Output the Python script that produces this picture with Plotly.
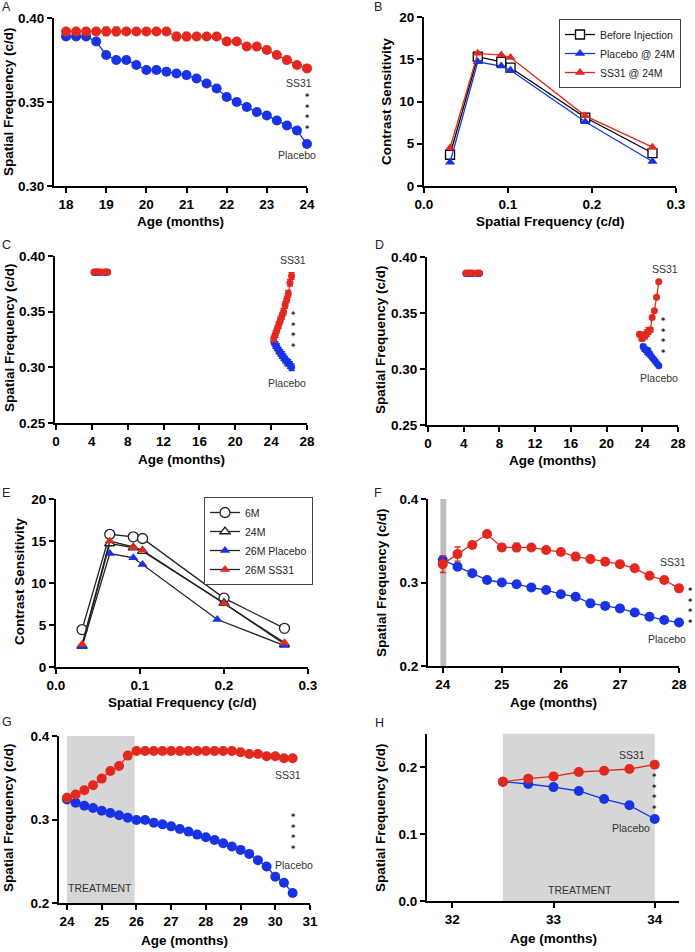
import plotly.graph_objects as go

W, H = 695, 952
RED = '#E3281D'
BLUE = '#1733E4'
DARK = '#222222'
FONT = 'Liberation Sans, Arial, Helvetica, sans-serif'

# ---------------- data ----------------
# Panel A
a_age = [18, 18.25, 18.5, 18.75, 19, 19.25, 19.5, 19.75, 20, 20.25, 20.5, 20.75, 21,
         21.25, 21.5, 21.75, 22, 22.25, 22.5, 22.75, 23, 23.25, 23.5, 23.75, 24]
a_ss31 = [0.392, 0.392, 0.392, 0.392, 0.392, 0.392, 0.392, 0.392, 0.392, 0.392, 0.392, 0.389, 0.389,
          0.389, 0.389, 0.389, 0.386, 0.386, 0.383, 0.383, 0.381, 0.378, 0.375, 0.372, 0.370]
a_ss31_err = [0.0008, 0.0008, 0.0008, 0.0008, 0.0025, 0.0025, 0.0008, 0.0008, 0.0008, 0.0008, 0.0008, 0.0025, 0.0025,
              0.0008, 0.0008, 0.0008, 0.0008, 0.0008, 0.0008, 0.0008, 0.0008, 0.0008, 0.0022, 0.0008, 0.0008]
a_plac = [0.389, 0.389, 0.389, 0.386, 0.378, 0.375, 0.375, 0.372, 0.369, 0.369, 0.368, 0.367, 0.366,
          0.364, 0.361, 0.358, 0.353, 0.350, 0.347, 0.344, 0.342, 0.339, 0.336, 0.333, 0.325]
a_plac_err = [0.0008, 0.0008, 0.0008, 0.0008, 0.0008, 0.0008, 0.0008, 0.0008, 0.0008, 0.0008, 0.0008, 0.0008, 0.0008,
              0.0008, 0.0008, 0.0008, 0.002, 0.0008, 0.0008, 0.0008, 0.0008, 0.0008, 0.0008, 0.002, 0.0008]

# Panel B
b_freq = [0.031, 0.064, 0.092, 0.103, 0.192, 0.272]
b_before = [3.7, 15.3, 14.7, 14.0, 8.1, 3.9]
b_plac = [2.8, 14.7, 14.2, 13.7, 7.6, 2.9]
b_ss31 = [4.5, 15.7, 15.5, 15.2, 8.3, 4.6]

# Panel C
c_young_age = [4.25, 4.5, 4.75, 5.0, 5.5, 5.75]
c_young_plac = [0.3852, 0.3852, 0.3853, 0.3852, 0.3852, 0.3853]
c_young_ss31 = [0.3857, 0.3858, 0.3857, 0.3857, 0.3858, 0.3857]
c_old_age = [24.3, 24.48, 24.66, 24.84, 25.02, 25.2, 25.38, 25.56, 25.74, 25.92, 26.1, 26.28]
c_old_ss31 = [0.326, 0.330, 0.334, 0.338, 0.342, 0.346, 0.350, 0.356, 0.361, 0.366, 0.376, 0.382]
c_old_plac = [0.323, 0.320, 0.318, 0.315, 0.313, 0.311, 0.309, 0.307, 0.305, 0.304, 0.302, 0.300]
c_err = 0.003

# Panel D
d_young_age = [4.25, 4.5, 4.75, 5.0, 5.5, 5.75]
d_young_plac = [0.3852, 0.3852, 0.3853, 0.3852, 0.3852, 0.3853]
d_young_ss31 = [0.3857, 0.3858, 0.3857, 0.3857, 0.3858, 0.3857]
d_ss31_age = [23.7, 23.95, 24.1, 24.3, 24.5, 24.7, 24.9, 25.1, 25.35, 25.6, 25.85]
d_ss31 = [0.331, 0.327, 0.329, 0.330, 0.332, 0.334, 0.335, 0.346, 0.352, 0.364, 0.378]
d_ss31_err = [0.002, 0.002, 0.003, 0.003, 0.003, 0.003, 0.002, 0.001, 0.001, 0.001, 0.001]
d_plac_age = [24.1, 24.25, 24.4, 24.55, 24.7, 24.85, 25.05, 25.25, 25.45, 25.65, 25.85]
d_plac = [0.320, 0.318, 0.317, 0.316, 0.315, 0.313, 0.311, 0.309, 0.307, 0.305, 0.303]
d_plac_err = [0.002, 0.002, 0.002, 0.003, 0.003, 0.002, 0.001, 0.001, 0.001, 0.001, 0.001]

# Panel E
e_freq = [0.031, 0.064, 0.092, 0.103, 0.200, 0.272]
e_freq_plac = [0.031, 0.064, 0.092, 0.103, 0.192, 0.272]
e_6m = [4.45, 15.8, 15.5, 15.3, 8.2, 4.6]
e_24m = [2.5, 14.7, 14.2, 13.8, 7.6, 2.7]
e_26m_plac = [2.4, 13.5, 13.0, 12.2, 5.65, 2.55]
e_26m_ss31 = [2.7, 15.0, 14.3, 13.9, 7.55, 2.9]

# Panel F
f_age = [24, 24.25, 24.5, 24.75, 25, 25.25, 25.5, 25.75, 26, 26.25, 26.5, 26.75, 27, 27.25, 27.5, 27.75, 28]
f_ss31 = [0.322, 0.334, 0.345, 0.358, 0.342, 0.342, 0.342, 0.339, 0.3365, 0.331, 0.328, 0.325, 0.322, 0.317, 0.308, 0.303, 0.293]
f_ss31_err = [0.010, 0.0085, 0.004, 0.001, 0.004, 0.005, 0.001, 0.001, 0.001, 0.001, 0.001, 0.001, 0.001, 0.001, 0.001, 0.001, 0.001]
f_plac = [0.327, 0.319, 0.311, 0.303, 0.300, 0.298, 0.294, 0.291, 0.286, 0.283, 0.275, 0.272, 0.269, 0.264, 0.259, 0.255, 0.252]
f_plac_err = [0.004, 0.001, 0.001, 0.001, 0.001, 0.001, 0.001, 0.001, 0.001, 0.001, 0.001, 0.001, 0.001, 0.001, 0.001, 0.001, 0.001]

# Panel G
g_age = [24, 24.25, 24.5, 24.75, 25, 25.25, 25.5, 25.75, 26, 26.25, 26.5, 26.75, 27, 27.25, 27.5, 27.75,
         28, 28.25, 28.5, 28.75, 29, 29.25, 29.5, 29.75, 30, 30.25, 30.5]
g_ss31 = [0.326, 0.330, 0.335, 0.341, 0.349, 0.358, 0.364, 0.3765, 0.382, 0.382, 0.382, 0.382, 0.382, 0.382, 0.382, 0.382,
          0.382, 0.382, 0.382, 0.382, 0.3805, 0.3785, 0.3785, 0.3757, 0.3757, 0.3734, 0.3734]
g_plac = [0.324, 0.320, 0.3165, 0.3137, 0.3105, 0.3078, 0.305, 0.3022, 0.2994, 0.2994, 0.2962, 0.2942, 0.2918, 0.2887, 0.2855, 0.2819,
          0.2787, 0.2755, 0.2716, 0.2676, 0.2636, 0.2588, 0.2513, 0.2437, 0.2314, 0.2243, 0.2119]

# Panel H
h_age = [32.5, 32.75, 33, 33.25, 33.5, 33.75, 34]
h_ss31 = [0.178, 0.1826, 0.186, 0.1925, 0.1945, 0.197, 0.2035]
h_plac = [0.178, 0.1746, 0.170, 0.1642, 0.1522, 0.1428, 0.1224]

# tick labels
t_age_a = [18, 19, 20, 21, 22, 23, 24]
t_sf_a = [0.30, 0.35, 0.40]
t_freq = [0.0, 0.1, 0.2, 0.3]
t_cs = [0, 5, 10, 15, 20]
t_age_cd = [0, 4, 8, 12, 16, 20, 24, 28]
t_sf_cd = [0.25, 0.30, 0.35, 0.40]
t_age_f = [24, 25, 26, 27, 28]
t_sf_fg = [0.2, 0.3, 0.4]
t_age_g = [24, 25, 26, 27, 28, 29, 30, 31]
t_age_h = [32, 33, 34]
t_sf_h = [0.0, 0.1, 0.2]

# ---------------- layout geometry (pixels) ----------------
panels = {
    1: (54, 307, 18, 186, [17.7, 24], [0.30, 0.40], t_age_a, '{:d}', t_sf_a, '{:.2f}'),
    2: (424, 676, 17, 186, [0, 0.3], [0, 20], t_freq, '{:.1f}', t_cs, '{:d}'),
    3: (55, 307, 256, 423, [-0.11, 28], [0.25, 0.40], t_age_cd, '{:d}', t_sf_cd, '{:.2f}'),
    4: (427, 678, 257, 425, [-0.11, 28], [0.25, 0.40], t_age_cd, '{:d}', t_sf_cd, '{:.2f}'),
    5: (56, 308, 499, 667, [0, 0.3], [0, 20], t_freq, '{:.1f}', t_cs, '{:d}'),
    6: (428, 679, 499, 666, [23.75, 28], [0.2, 0.4], t_age_f, '{:d}', t_sf_fg, '{:.1f}'),
    7: (59, 310, 736, 903, [23.77, 31], [0.2, 0.4], t_age_g, '{:d}', t_sf_fg, '{:.1f}'),
    8: (427, 679, 733.5, 901, [31.75, 34.24], [0, 0.25], t_age_h, '{:d}', t_sf_h, '{:.1f}'),
}


def px(x):
    return x / W


def py(y):
    return 1 - y / H


fig = go.Figure()
layout = dict(
    width=W, height=H, margin=dict(l=0, r=0, t=0, b=0, pad=0, autoexpand=False),
    paper_bgcolor='white', plot_bgcolor='white',
    font=dict(family=FONT, color=DARK),
    showlegend=True,
)

for i, (x0, x1, yt, yb, xr, yr, xt, xf, yt_, yf) in panels.items():
    sx = '' if i == 1 else str(i)
    common = dict(showline=True, linecolor='black', linewidth=2, ticks='outside', ticklen=5,
                  tickwidth=2, tickcolor='black', showgrid=False, zeroline=False, automargin=False,
                  tickfont=dict(family=FONT, size=13.5, color='black', weight='bold'))
    layout['xaxis' + sx] = dict(domain=[px(x0), px(x1)], range=xr, anchor='y' + sx,
                                tickvals=xt, ticktext=[xf.format(v) for v in xt], **common)
    layout['yaxis' + sx] = dict(domain=[py(yb), py(yt)], range=yr, anchor='x' + sx,
                                tickvals=yt_, ticktext=[yf.format(v) for v in yt_], **common)


def line_trace(x, y, color, ax, err=None, size=10, name=None, legend=None, showlegend=False,
               symbol='circle', fill=None, mline=None, lcolor=None):
    t = go.Scatter(
        x=x, y=y, mode='lines+markers', xaxis='x' + ax, yaxis='y' + ax,
        line=dict(color=lcolor or color, width=1.3),
        marker=dict(size=size, color=fill or color, symbol=symbol,
                    line=dict(width=mline[1] if mline else 0, color=mline[0] if mline else color)),
        showlegend=showlegend, name=name,
        cliponaxis=False,
    )
    if legend:
        t.legend = legend
    if err is not None:
        t.error_y = dict(type='data', array=err if isinstance(err, list) else [err] * len(y),
                         color=color, thickness=1.3, width=3)
    return t


# Panel A
fig.add_trace(line_trace(a_age, a_plac, BLUE, '', a_plac_err))
fig.add_trace(line_trace(a_age, a_ss31, RED, '', a_ss31_err))

# Panel B
fig.add_trace(line_trace(b_freq, b_before, 'black', '2', size=9, symbol='square', fill='white',
                         mline=('black', 1.3), name='Before Injection', legend='legend', showlegend=True))
fig.add_trace(line_trace(b_freq, b_plac, BLUE, '2', size=9, symbol='triangle-up',
                         name='Placebo @ 24M', legend='legend', showlegend=True))
fig.add_trace(line_trace(b_freq, b_ss31, RED, '2', size=9, symbol='triangle-up',
                         name='SS31 @ 24M', legend='legend', showlegend=True))

# Panel C
fig.add_trace(line_trace(c_young_age, c_young_plac, BLUE, '3', 0.0012, size=7))
fig.add_trace(line_trace(c_young_age, c_young_ss31, RED, '3', 0.0008, size=7))
fig.add_trace(line_trace(c_old_age, c_old_plac, BLUE, '3', c_err, size=7))
fig.add_trace(line_trace(c_old_age, c_old_ss31, RED, '3', c_err, size=7))

# Panel D
fig.add_trace(line_trace(d_young_age, d_young_plac, BLUE, '4', 0.0012, size=7))
fig.add_trace(line_trace(d_young_age, d_young_ss31, RED, '4', 0.0008, size=7))
fig.add_trace(line_trace(d_plac_age, d_plac, BLUE, '4', d_plac_err, size=7))
fig.add_trace(line_trace(d_ss31_age, d_ss31, RED, '4', d_ss31_err, size=7))

# Panel E
fig.add_trace(line_trace(e_freq, e_6m, DARK, '5', size=10, symbol='circle', fill='white',
                         mline=(DARK, 1.3), name='6M', legend='legend2', showlegend=True))
fig.add_trace(line_trace(e_freq, e_24m, DARK, '5', size=9, symbol='triangle-up', fill='white',
                         mline=(DARK, 1.3), name='24M', legend='legend2', showlegend=True))
fig.add_trace(line_trace(e_freq_plac, e_26m_plac, BLUE, '5', size=9, symbol='triangle-up',
                         lcolor=DARK, name='26M Placebo', legend='legend2', showlegend=True))
fig.add_trace(line_trace(e_freq, e_26m_ss31, RED, '5', size=9, symbol='triangle-up',
                         lcolor=DARK, name='26M SS31', legend='legend2', showlegend=True))

# Panel F
fig.add_trace(line_trace(f_age, f_plac, BLUE, '6', f_plac_err))
fig.add_trace(line_trace(f_age, f_ss31, RED, '6', f_ss31_err))

# Panel G
fig.add_trace(line_trace(g_age, g_plac, BLUE, '7'))
fig.add_trace(line_trace(g_age, g_ss31, RED, '7'))

# Panel H
fig.add_trace(line_trace(h_age, h_plac, BLUE, '8'))
fig.add_trace(line_trace(h_age, h_ss31, RED, '8'))

# shaded treatment windows
shapes = [
    dict(type='rect', xref='x6', yref='y6', x0=23.96, x1=24.06, y0=0.2, y1=0.4,
         fillcolor='#bdbdbd', line=dict(width=0), layer='below'),
    dict(type='rect', xref='x7', yref='y7', x0=24, x1=25.95, y0=0.2, y1=0.402,
         fillcolor='#d6d6d6', line=dict(width=0), layer='below'),
    dict(type='rect', xref='x8', yref='y8', x0=32.5, x1=34, y0=0, y1=0.25,
         fillcolor='#d6d6d6', line=dict(width=0), layer='below'),
]
layout['shapes'] = shapes

ann = []
CA = dict(showarrow=False, xanchor='center', yanchor='middle')
STAR_TEXT = '*<br>*<br>*<br>*'
STAR_FONT = dict(family='DejaVu Sans, sans-serif', size=8.2, color='#1a1a1a', weight='bold')


def note(ax, x, y, text, size=10.5, color='#333333', **kw):
    ann.append(dict(xref='x' + ax, yref='y' + ax, x=x, y=y, text=text,
                    font=dict(family=FONT, size=size, color=color), **CA, **kw))


def stars(ax, x, ymid):
    ann.append(dict(xref='x' + ax, yref='y' + ax, x=x, y=ymid, text=STAR_TEXT,
                    font=STAR_FONT, yshift=-2, **CA))


note('', 23.8, 0.3615, 'SS31')
note('', 23.75, 0.3185, 'Placebo')
stars('', 24.0, 0.3448)

note('3', 26.44, 0.3967, 'SS31')
note('3', 25.77, 0.2858, 'Placebo')
stars('3', 26.44, 0.334)

note('4', 26.5, 0.3893, 'SS31')
note('4', 25.87, 0.2917, 'Placebo')
stars('4', 26.32, 0.3303)

note('6', 27.9, 0.3241, 'SS31')
note('6', 27.8, 0.2323, 'Placebo')
# stars of F sit right of the axis end -> place in paper coords
fx0, fx1, fyt, fyb = 428, 679, 499, 666
f_star_mid = 0.273
ypx = fyb - (f_star_mid - 0.2) / 0.2 * (fyb - fyt)
ann.append(dict(xref='paper', yref='paper', x=px(690), y=py(ypx), text=STAR_TEXT,
                font=STAR_FONT, yshift=-2, **CA))

note('7', 30.37, 0.353, 'SS31')
note('7', 30.53, 0.2461, 'Placebo')
stars('7', 30.53, 0.2865)
note('7', 24.96, 0.2179, 'TREATMENT')

note('8', 33.78, 0.2179, 'SS31')
note('8', 33.77, 0.1095, 'Placebo')
stars('8', 34.0, 0.1637)
note('8', 33.26, 0.0164, 'TREATMENT')

# panel letters
for letter, (lx, ly) in {'A': (7, 7), 'B': (378, 7), 'C': (7, 245), 'D': (379, 245),
                         'E': (6, 493), 'F': (378, 493), 'G': (7, 722), 'H': (379, 723)}.items():
    ann.append(dict(xref='paper', yref='paper', x=px(lx), y=py(ly), text=letter,
                    font=dict(family=FONT, size=12.5, color='#222222'), **CA))

# axis titles
TF = dict(family=FONT, size=13.5, color='black', weight='bold')
xtitles = [(180, 221, 'Age (months)'), (550, 221, 'Spatial Frequency (c/d)'),
           (181, 459, 'Age (months)'), (552, 460, 'Age (months)'),
           (182, 702, 'Spatial Frequency (c/d)'), (553, 702, 'Age (months)'),
           (184, 940, 'Age (months)'), (553, 938, 'Age (months)')]
ytitles = [(9, 102, 'Spatial Frequency (c/d)'), (387, 102, 'Contrast Sensitivity'),
           (9, 338, 'Spatial Frequency (c/d)'), (380, 340, 'Spatial Frequency (c/d)'),
           (19, 582, 'Contrast Sensitivity'), (381, 582, 'Spatial Frequency (c/d)'),
           (8, 818, 'Spatial Frequency (c/d)'), (380, 818, 'Spatial Frequency (c/d)')]
for x, y, t in xtitles:
    ann.append(dict(xref='paper', yref='paper', x=px(x), y=py(y), text=t, font=TF, **CA))
for x, y, t in ytitles:
    ann.append(dict(xref='paper', yref='paper', x=px(x), y=py(y), text=t, textangle=-90, font=TF, **CA))

layout['annotations'] = ann

LF = dict(family=FONT, size=10.5, color='#222222')
layout['legend'] = dict(x=px(559), y=py(19), xanchor='left', yanchor='top', bgcolor='white',
                        bordercolor='#444444', borderwidth=1, font=LF, itemwidth=30,
                        tracegroupgap=0, traceorder='normal')
layout['legend2'] = dict(x=px(204), y=py(497), xanchor='left', yanchor='top', bgcolor='white',
                         bordercolor='#444444', borderwidth=1, font=LF, itemwidth=30,
                         tracegroupgap=0, traceorder='normal')

fig.update_layout(**layout)
fig.write_html('out.html', config={'displayModeBar': False},
               post_script="document.body.style.margin='0px';document.body.style.padding='0px';")
